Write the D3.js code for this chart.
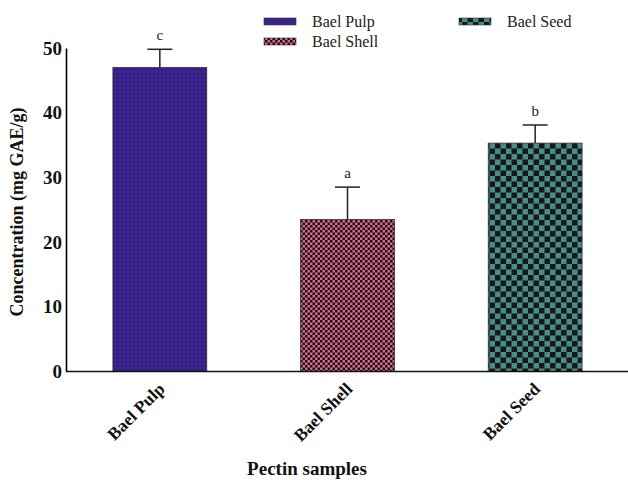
<!DOCTYPE html>
<html>
<head>
<meta charset="utf-8">
<script src="https://cdn.jsdelivr.net/npm/d3@7"></script>
<style>
  body { margin: 0; background: #fff; }
  text { font-family: "Liberation Serif", "Times New Roman", serif; }
</style>
</head>
<body>
<svg id="chart"></svg>
<script>
const categories = ["Bael Pulp", "Bael Shell", "Bael Seed"];
const values = [47.0, 23.5, 35.3];
const errors = [2.8, 5.0, 2.8];
const letters = ["c", "a", "b"];
const yTicks = [0, 10, 20, 30, 40, 50];

const width = 628;
const height = 480;

const svg = d3.select("#chart")
              .attr("width", width)
              .attr("height", height);

const defs = svg.append("defs");

// pulp: purple with dark dots
const pPulp = defs.append("pattern")
  .attr("id", "pat-pulp").attr("patternUnits", "userSpaceOnUse")
  .attr("width", 4).attr("height", 4);
pPulp.append("rect").attr("width", 4).attr("height", 4).attr("fill", "#3b2390");
pPulp.append("rect").attr("x", 1).attr("y", 1).attr("width", 1.2).attr("height", 1.2).attr("fill", "#1c1250");

// shell: pink / black small checker
const pShell = defs.append("pattern")
  .attr("id", "pat-shell").attr("patternUnits", "userSpaceOnUse")
  .attr("width", 5).attr("height", 5);
pShell.append("rect").attr("width", 5).attr("height", 5).attr("fill", "#d76a8c");
pShell.append("rect").attr("width", 2.5).attr("height", 2.5).attr("fill", "#1a1014");
pShell.append("rect").attr("x", 2.5).attr("y", 2.5).attr("width", 2.5).attr("height", 2.5).attr("fill", "#1a1014");

// seed: teal / black big checker
const pSeed = defs.append("pattern")
  .attr("id", "pat-seed").attr("patternUnits", "userSpaceOnUse")
  .attr("width", 11).attr("height", 11);
pSeed.append("rect").attr("width", 11).attr("height", 11).attr("fill", "#4b8d86");
pSeed.append("rect").attr("width", 5.5).attr("height", 5.5).attr("fill", "#141a1a");
pSeed.append("rect").attr("x", 5.5).attr("y", 5.5).attr("width", 5.5).attr("height", 5.5).attr("fill", "#141a1a");

const fills = ["url(#pat-pulp)", "url(#pat-shell)", "url(#pat-seed)"];

const xScale = d3.scaleBand(categories, [66, 629]).paddingInner(0.5).paddingOuter(0.25);
const yScale = d3.scaleLinear([0, 50], [371.5, 48]);

// y axis
svg.append("g")
   .attr("transform", "translate(66,0)")
   .call(d3.axisLeft(yScale).tickValues(yTicks).tickSize(0).tickPadding(4))
   .call(g => g.select(".domain").attr("stroke", "#000").attr("stroke-width", 1.6))
   .call(g => g.selectAll(".tick text")
               .attr("font-family", "'Liberation Serif', serif")
               .attr("font-size", 19)
               .attr("font-weight", "bold")
               .attr("fill", "#111"));

// bars
svg.append("g")
   .selectAll("rect")
   .data(categories)
   .join("rect")
   .attr("x", d => xScale(d))
   .attr("y", (d, i) => yScale(values[i]))
   .attr("width", xScale.bandwidth())
   .attr("height", (d, i) => yScale(0) - yScale(values[i]))
   .attr("fill", (d, i) => fills[i])
   .attr("stroke", "#333")
   .attr("stroke-width", 0.8);

// error bars
const eb = svg.append("g").attr("stroke", "#222").attr("stroke-width", 1.5);
categories.forEach((c, i) => {
  const cx = xScale(c) + xScale.bandwidth() / 2;
  eb.append("line")
    .attr("x1", cx).attr("x2", cx)
    .attr("y1", yScale(values[i])).attr("y2", yScale(values[i] + errors[i]));
  eb.append("line")
    .attr("x1", cx - 12.5).attr("x2", cx + 12.5)
    .attr("y1", yScale(values[i] + errors[i])).attr("y2", yScale(values[i] + errors[i]));
  svg.append("text")
    .attr("x", cx)
    .attr("y", yScale(values[i] + errors[i]) - 9)
    .attr("text-anchor", "middle")
    .attr("font-size", 15)
    .attr("fill", "#222")
    .text(letters[i]);
});

// x axis
svg.append("line")
   .attr("x1", 66).attr("x2", width)
   .attr("y1", yScale(0)).attr("y2", yScale(0))
   .attr("stroke", "#111").attr("stroke-width", 1.6);

svg.append("g")
   .selectAll("text")
   .data(categories)
   .join("text")
   .attr("transform", d => `translate(${xScale(d) + xScale.bandwidth() / 2 + 6},${390}) rotate(-45)`)
   .attr("text-anchor", "end")
   .attr("font-size", 17.5)
   .attr("font-weight", "bold")
   .attr("fill", "#111")
   .text(d => d);

// axis titles
svg.append("text")
   .attr("transform", "translate(23,212) rotate(-90)")
   .attr("text-anchor", "middle")
   .attr("font-size", 18)
   .attr("font-weight", "bold")
   .attr("fill", "#111")
   .text("Concentration (mg GAE/g)");

svg.append("text")
   .attr("x", 307)
   .attr("y", 475)
   .attr("text-anchor", "middle")
   .attr("font-size", 19)
   .attr("font-weight", "bold")
   .attr("fill", "#111")
   .text("Pectin samples");

// legend
const legendPos = [[264, 18], [264, 38], [459, 18]];
const legend = svg.append("g");
categories.forEach((c, i) => {
  const [lx, ly] = legendPos[i];
  legend.append("rect")
    .attr("x", lx).attr("y", ly)
    .attr("width", 32).attr("height", 7)
    .attr("fill", fills[i])
    .attr("stroke", "#333").attr("stroke-width", 0.6);
  legend.append("text")
    .attr("x", lx + 48).attr("y", ly + 9)
    .attr("font-size", 16)
    .attr("fill", "#222")
    .text(c);
});
</script>
</body>
</html>
